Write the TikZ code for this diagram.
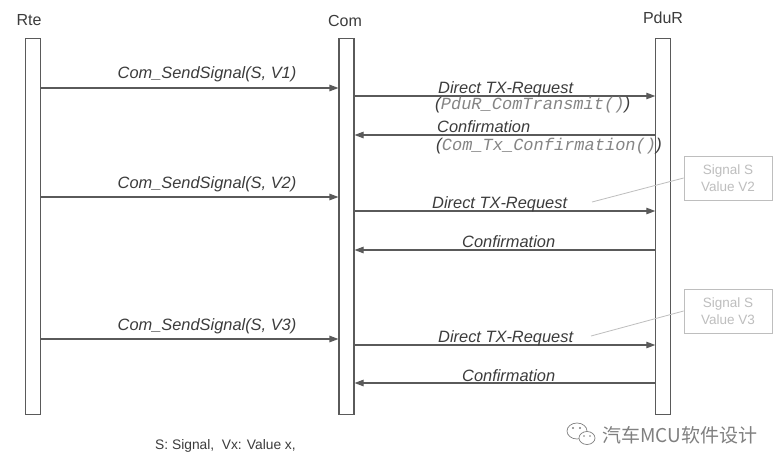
\documentclass[tikz,border=0pt]{standalone}
\usepackage{fontspec}
\setmainfont{Liberation Sans}
\setsansfont{Liberation Sans}
\setmonofont{Liberation Mono}
\newfontfamily\cjk{Noto Sans CJK SC}
\usetikzlibrary{arrows.meta}
\definecolor{txt}{HTML}{3C3C3C}
\definecolor{ln}{HTML}{5A5A5A}
\definecolor{mono}{HTML}{858585}
\definecolor{notec}{HTML}{BEBEBE}
\definecolor{wm}{HTML}{808080}
\begin{document}
\begin{tikzpicture}[x=1pt,y=-1pt,
  lifebar/.style={draw=ln, fill=white, line width=1.1pt, minimum width=15pt, minimum height=376pt, anchor=north, inner sep=0pt},
  msg/.style={draw=ln, line width=1.1pt, -{Triangle[length=9pt,width=6.5pt]}},
  lbl/.style={inner sep=0pt, anchor=base, font=\fontsize{16.4}{19}\selectfont\itshape, text=txt},
  lbll/.style={lbl, anchor=base west},
  monol/.style={inner sep=0pt, anchor=base west, font=\fontsize{17}{19}\selectfont\itshape, text=txt},
  head/.style={inner sep=0pt, anchor=base, font=\fontsize{16}{19}\selectfont, text=txt},
  note/.style={draw=notec, line width=0.8pt, text=notec, font=\fontsize{13.5}{17}\selectfont, align=center, minimum width=88pt, minimum height=44pt, inner sep=0pt},
  noteline/.style={draw=notec, line width=0.8pt}]
\useasboundingbox[fill=white] (0,0) rectangle (783,469);

% headers
\node[head] (hrte) at (29,25) {Rte};
\node[head] (hcom) at (345,26) {Com};
\node[head] (hpdur) at (663,23) {PduR};

% lifelines
\node[lifebar] (rte) at (32.7,38) {};
\node[lifebar] (com) at (346.5,38) {};
\node[lifebar] (pdur) at (663.3,38) {};

% round 1
\draw[msg] (rte.east |- 0,88) -- (com.west |- 0,88);
\node[lbl] (l1) at (207,78) {Com\_SendSignal(S, V1)};
\draw[msg] (com.east |- 0,96) -- (pdur.west |- 0,96);
\node[lbll] (l2) at (438,93) {Direct TX-Request};
\node[monol] (l2b) at (435,109) {(\textcolor{mono}{\ttfamily\itshape PduR\_ComTransmit()})};
\draw[msg] (pdur.west |- 0,135) -- (com.east |- 0,135);
\node[lbll] (l3) at (437,132) {Confirmation};
\node[monol] (l3b) at (436,150) {(\textcolor{mono}{\ttfamily\itshape Com\_Tx\_Confirmation()})};

% round 2
\draw[msg] (rte.east |- 0,197) -- (com.west |- 0,197);
\node[lbl] (l4) at (207,188) {Com\_SendSignal(S, V2)};
\draw[msg] (com.east |- 0,211) -- (pdur.west |- 0,211);
\node[lbll] (l5) at (432,208) {Direct TX-Request};
\draw[msg] (pdur.west |- 0,250) -- (com.east |- 0,250);
\node[lbll] (l6) at (462,247) {Confirmation};

% round 3
\draw[msg] (rte.east |- 0,339) -- (com.west |- 0,339);
\node[lbl] (l7) at (207,330) {Com\_SendSignal(S, V3)};
\draw[msg] (com.east |- 0,345) -- (pdur.west |- 0,345);
\node[lbll] (l8) at (438,342) {Direct TX-Request};
\draw[msg] (pdur.west |- 0,383) -- (com.east |- 0,383);
\node[lbll] (l9) at (462,381) {Confirmation};

% notes
\node[note] (n2) at (728,178) {Signal S\\Value V2};
\coordinate (c2) at (592,202);
\draw[noteline] (c2) -- (n2.west);
\node[note] (n3) at (728,311) {Signal S\\Value V3};
\coordinate (c3) at (591,336);
\draw[noteline] (c3) -- (n3.west);

% footer
\node[inner sep=0pt, anchor=base west, font=\fontsize{13.8}{16}\selectfont, text=txt] (foot) at (155,449) {S: Signal,\hspace{0.55em}Vx: Value x,};

% watermark
\begin{scope}[draw=wm, line width=0.7pt]
  \draw (577,431) ellipse [x radius=10, y radius=8];
  \filldraw[fill=white] (587,438) ellipse [x radius=8, y radius=6.5];
  \fill[wm] (573,428) circle (1.1) (580,428) circle (1.1) (584,436) circle (0.9) (590,436) circle (0.9);
\end{scope}
\node[inner sep=0pt, anchor=base west, font=\cjk\fontsize{19}{22}\selectfont, text=wm] (wmt) at (602,442) {汽车MCU软件设计};
\end{tikzpicture}
\end{document}
